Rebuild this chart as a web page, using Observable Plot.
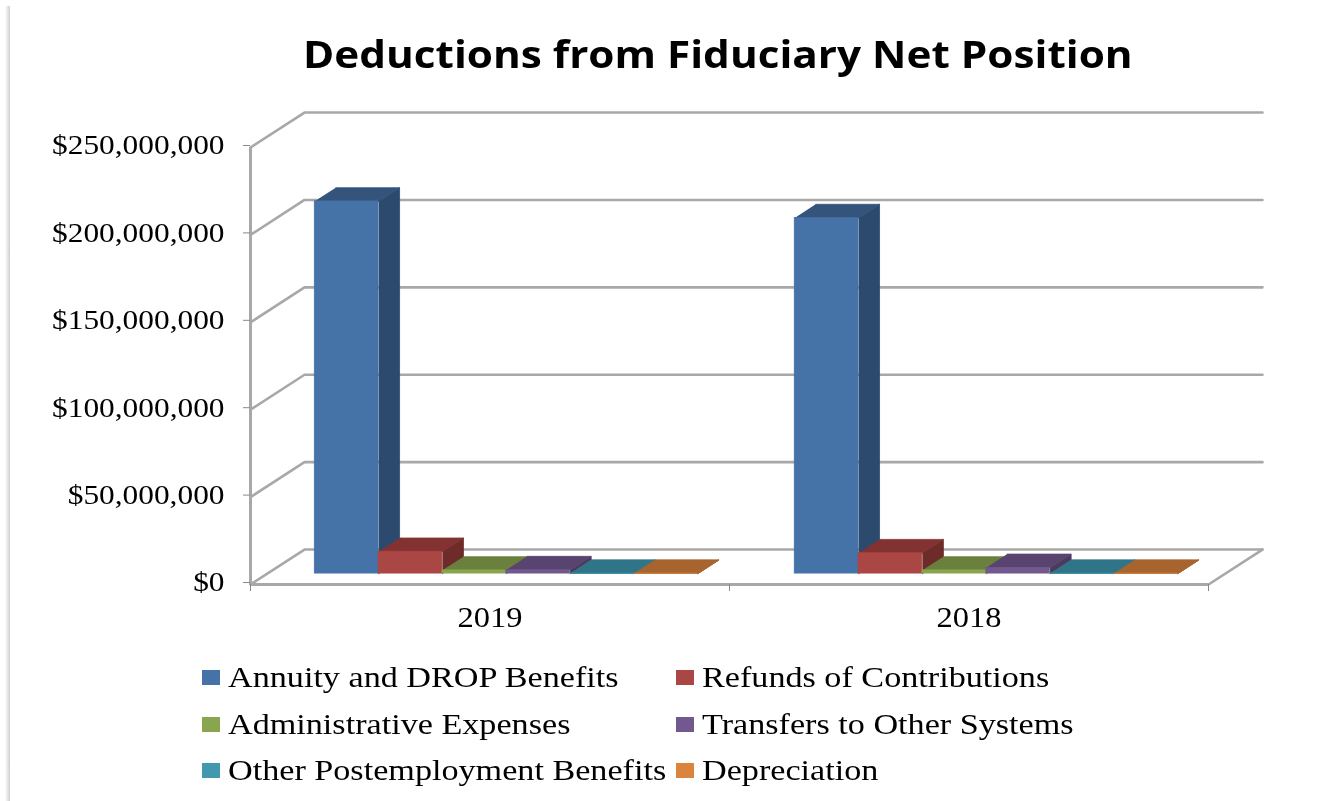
<!DOCTYPE html>
<html>
<head>
<meta charset="utf-8">
<script src="https://cdn.jsdelivr.net/npm/d3@7"></script>
<script src="https://cdn.jsdelivr.net/npm/@observablehq/plot@0.6"></script>
<style>
  html, body { margin: 0; padding: 0; background: #fff; width: 1320px; height: 801px; overflow: hidden; }
  #edge { position: absolute; left: 5px; top: 6px; width: 5px; height: 795px;
          background: linear-gradient(to right, #fff, #cfcfcf); }
  #title { height: 100px; position: relative; }
  #title span { position: absolute; left: 303px; top: 27px; font: 700 38px "Open Sans", sans-serif;
                color: #000; white-space: nowrap; transform-origin: left center; }
  #chart svg { display: block; }
  #legend { position: relative; height: 161px; font-family: "Liberation Serif", serif; font-size: 29px; color: #000; }
  .item { position: absolute; height: 30px; line-height: 30px; }
  .item i { position: absolute; left: 0; top: 8px; width: 18px; height: 15px; }
  .item span { position: absolute; left: 26px; top: 0; white-space: nowrap; transform-origin: left center; }
  #page { filter: blur(0.55px); }
</style>
</head>
<body>
<div id="edge"></div>
<div id="page">
  <div id="title"><span>Deductions from Fiduciary Net Position</span></div>
  <div id="chart"></div>
  <div id="legend"></div>
</div>
<script>
const years = ["2019", "2018"];
const series = ["Annuity and DROP Benefits", "Refunds of Contributions", "Administrative Expenses",
                "Transfers to Other Systems", "Other Postemployment Benefits", "Depreciation"];
const values2019 = [213000000, 12600000, 1900000, 2100000, 100000, 100000];
const values2018 = [203500000, 11800000, 1900000, 3400000, 100000, 100000];
const frontColors = ["#4572A7", "#AA4643", "#89A54E", "#71588F", "#4198AF", "#DB843D"];
const topColors   = ["#34547C", "#823331", "#6A803C", "#59446F", "#2F7587", "#A8642E"];
const sideColors  = ["#2C4A6E", "#6D2C2A", "#5A6D33", "#4B3A5E", "#286473", "#8F5527"];
const yTicks = [0, 50000000, 100000000, 150000000, 200000000, 250000000];

// oblique projection of the 3-D chart box: depth 0 = front plane, depth 1 = back wall
const depthX = 0.1127;     // in category units
const depthY = 20000000;   // in dollars
const px = (x, d) => x + d * depthX;
const py = (v, d) => v + d * depthY;
const barFront = 0.31, barBack = 0.70, gap = 0.2, barW = (1 - gap) / 6;
const gridColor = "#a8a8a8";

const marks = [];
// back wall + side wall gridlines
for (const v of yTicks) {
  marks.push(Plot.line([[0, v, 0], [0, v, 1], [2, v, 1]].map(([x, y, d]) => ({x: px(x, d), y: py(y, d)})),
    {x: "x", y: "y", stroke: gridColor, strokeWidth: 2.6}));
}
// floor right edge
marks.push(Plot.line([[2, 0, 0], [2, 0, 1]].map(([x, y, d]) => ({x: px(x, d), y: py(y, d)})),
  {x: "x", y: "y", stroke: gridColor, strokeWidth: 2.6}));
// value axis line and floor front edge
marks.push(Plot.ruleX([0], {y1: 0, y2: 250000000, stroke: gridColor, strokeWidth: 3}));
marks.push(Plot.ruleY([0], {x1: 0, x2: 2, stroke: gridColor, strokeWidth: 3}));

// bars
[values2019, values2018].forEach((vals, g) => {
  vals.forEach((v, i) => {
    const x0 = g + gap / 2 + i * barW - 0.001 + g * 0.002, x1 = x0 + barW;
    const side = [[x1, 0, barFront], [x1, 0, barBack], [x1, v, barBack], [x1, v, barFront]]
      .map(([x, y, d]) => ({x: px(x, d), y: py(y, d)}));
    const top = [[x0, v, barFront], [x1, v, barFront], [x1, v, barBack], [x0, v, barBack]]
      .map(([x, y, d]) => ({x: px(x, d), y: py(y, d)}));
    marks.push(Plot.line(side, {x: "x", y: "y", fill: sideColors[i], stroke: sideColors[i], strokeWidth: 0.8}));
    marks.push(Plot.line(top, {x: "x", y: "y", fill: topColors[i], stroke: topColors[i], strokeWidth: 0.8}));
    marks.push(Plot.rect([{s: series[i], year: years[g], v}], {
      x1: () => px(x0, barFront), x2: () => px(x1, barFront),
      y1: () => py(0, barFront), y2: () => py(v, barFront),
      fill: frontColors[i], stroke: frontColors[i], strokeWidth: 0.5, inset: 0
    }));
  });
});

// axes
marks.push(Plot.axisY({ticks: yTicks, tickFormat: d3.format("$,"), tickSize: 7, tickPadding: 19, stroke: "#888",
  fontSize: 28, fill: "#000", dy: -2, label: null}));
marks.push(Plot.axisX({ticks: [0, 1, 2], tickSize: 7, tickFormat: () => "", stroke: "#888", label: null}));
marks.push(Plot.axisX({ticks: [0.5, 1.5], tickSize: 0, tickPadding: 22, tickFormat: d => years[Math.floor(d)],
  fontSize: 29, fill: "#000", label: null}));

const plot = Plot.plot({
  width: 1320, height: 540,
  marginLeft: 250, marginRight: 112, marginTop: 47, marginBottom: 56,
  x: {domain: [0, 2], axis: null},
  y: {domain: [0, 250000000], axis: null},
  style: {fontFamily: '"Liberation Serif", serif', background: "transparent", overflow: "visible"},
  marks
});
document.getElementById("chart").appendChild(plot);

// the reference type is horizontally stretched
plot.querySelectorAll("[aria-label^='y-axis'] text, [aria-label^='x-axis'] text").forEach(t => {
  const w = t.getComputedTextLength();
  if (w > 0) { t.setAttribute("textLength", w * 1.12); t.setAttribute("lengthAdjust", "spacingAndGlyphs"); }
});

// legend
const legend = document.getElementById("legend");
const colX = [202, 676];
series.forEach((s, i) => {
  const d = document.createElement("div");
  d.className = "item";
  d.style.left = colX[i % 2] + "px";
  d.style.top = (22 + Math.floor(i / 2) * 46.5) + "px";
  d.innerHTML = `<i style="background:${frontColors[i]}"></i><span>${s}</span>`;
  legend.appendChild(d);
});
document.fonts.ready.then(() => {
  const spans = legend.querySelectorAll("span");
  const k = 391 / spans[0].offsetWidth;
  spans.forEach(sp => sp.style.transform = `scaleX(${k})`);
  const t = document.querySelector("#title span");
  t.style.transform = `scaleX(${830 / t.offsetWidth})`;
});
</script>
</body>
</html>
